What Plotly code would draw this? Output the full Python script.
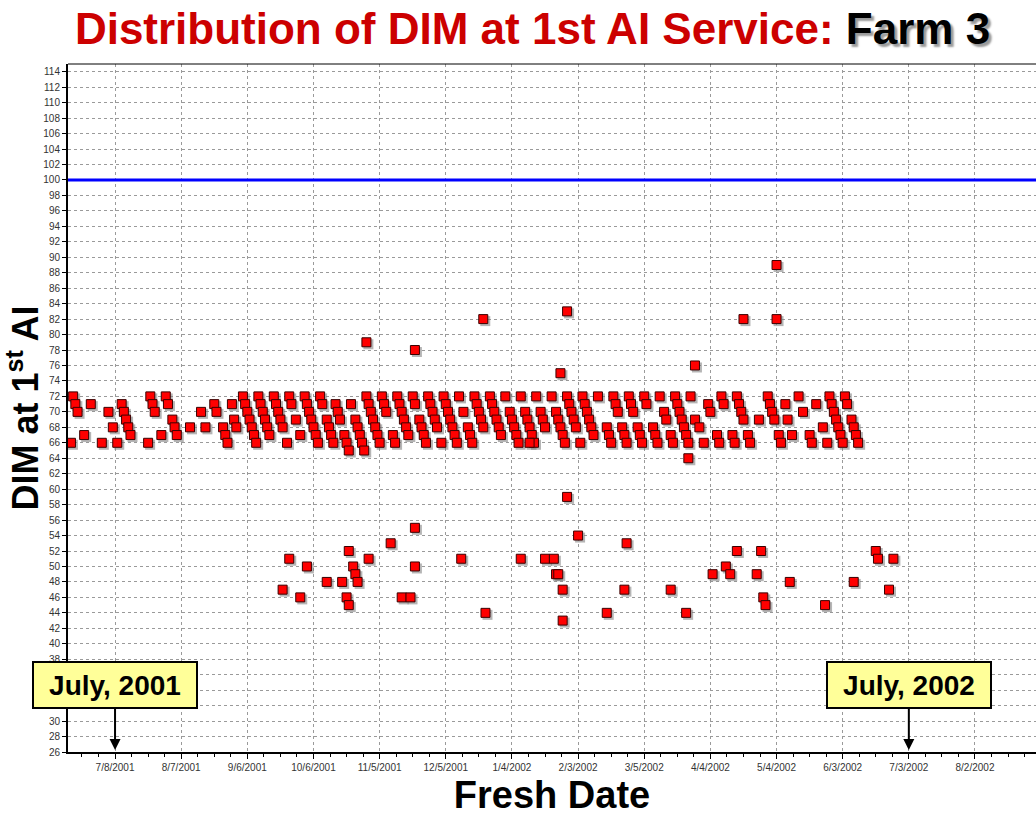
import plotly.graph_objects as go
import pandas as pd

# ---------------- data ----------------
BASE_DATE = "2001-07-08"          # fresh-day offsets are counted from this date

# main band of first services (DIM 64-72)
BAND_DAY = [-20, -19, -18, -17, -14, -11, -6, -3, -1, 1,
            3, 4, 5, 6, 7, 15, 16, 17, 18, 21,
            23, 24, 26, 27, 28, 34, 39, 41, 45, 46,
            49, 50, 51, 53, 54, 55, 58, 59, 60, 61,
            62, 63, 64, 65, 66, 67, 68, 69, 70, 72,
            73, 74, 75, 76, 78, 79, 80, 82, 84, 86,
            87, 88, 89, 90, 91, 92, 93, 94, 96, 97,
            98, 99, 100, 101, 102, 104, 105, 106, 107, 109,
            110, 111, 112, 113, 114, 115, 116, 117, 118, 119,
            120, 121, 122, 123, 126, 127, 128, 129, 130, 131,
            132, 133, 135, 136, 138, 139, 140, 141, 142, 143,
            144, 145, 146, 148, 149, 150, 151, 152, 153, 154,
            155, 156, 158, 160, 161, 162, 163, 164, 165, 166,
            167, 170, 171, 172, 173, 174, 175, 177, 179, 180,
            181, 182, 183, 184, 186, 187, 188, 189, 190, 188,
            191, 193, 194, 195, 198, 200, 201, 202, 203, 204,
            205, 206, 207, 208, 209, 211, 212, 213, 214, 215,
            216, 217, 219, 223, 224, 225, 226, 227, 228, 230,
            231, 232, 233, 234, 235, 237, 238, 239, 240, 241,
            244, 245, 246, 247, 249, 250, 252, 253, 254, 255,
            256, 257, 258, 259, 260, 260, 261, 263, 265, 267,
            269, 270, 273, 274, 275, 276, 280, 281, 282, 283,
            284, 285, 287, 288, 292, 296, 297, 298, 299, 301,
            302, 304, 305, 307, 310, 312, 315, 316, 318, 321,
            323, 324, 325, 326, 327, 328, 329, 330, 331, 332,
            334, 335, 336, 337]
BAND_DIM = [66, 72, 71, 70, 67, 71, 66, 70, 68, 66,
            71, 70, 69, 68, 67, 66, 72, 71, 70, 67,
            72, 71, 69, 68, 67, 68, 70, 68, 71, 70,
            68, 67, 66, 71, 69, 68, 72, 71, 70, 69,
            68, 67, 66, 72, 71, 70, 69, 68, 67, 72,
            71, 70, 69, 68, 66, 72, 71, 69, 67, 72,
            71, 70, 69, 68, 67, 66, 72, 71, 69, 68,
            67, 66, 71, 70, 69, 67, 66, 65, 71, 69,
            68, 67, 66, 65, 72, 71, 70, 69, 68, 67,
            66, 72, 71, 70, 67, 66, 72, 71, 70, 69,
            68, 67, 72, 71, 69, 68, 67, 66, 72, 71,
            70, 69, 68, 66, 72, 71, 70, 69, 68, 67,
            66, 72, 70, 68, 67, 66, 72, 71, 70, 69,
            68, 72, 71, 70, 69, 68, 67, 72, 70, 69,
            68, 67, 66, 72, 70, 69, 68, 67, 66, 66,
            72, 70, 69, 68, 72, 70, 69, 68, 67, 66,
            72, 71, 70, 69, 68, 66, 72, 71, 70, 69,
            68, 67, 72, 68, 67, 66, 72, 71, 70, 68,
            67, 66, 72, 71, 70, 68, 67, 66, 72, 71,
            68, 67, 66, 72, 70, 69, 67, 66, 72, 71,
            70, 69, 68, 67, 66, 64, 72, 69, 68, 66,
            71, 70, 67, 66, 72, 71, 67, 66, 72, 71,
            70, 69, 67, 66, 69, 72, 71, 70, 69, 67,
            66, 71, 69, 67, 72, 70, 67, 66, 71, 68,
            66, 72, 71, 70, 69, 68, 67, 66, 72, 71,
            69, 68, 67, 66]

# early services (DIM 43-55)
LOW_DAY = [136, 210, 125, 232, 106, 79, 115, 157, 184, 195, 199,
           87, 108, 136, 109, 200, 201, 96, 103, 110,
           76, 203, 231, 84, 105, 130, 134, 106, 168, 223, 203,
           282, 293, 345, 346, 353, 277, 271, 279, 291, 306, 335,
           252, 351, 294, 295, 322, 259]
LOW_DIM = [55, 54, 53, 53, 52, 51, 51, 51, 51, 51, 51,
           50, 50, 50, 49, 49, 49, 48, 48, 48,
           47, 47, 47, 46, 46, 46, 46, 45, 44, 44, 43,
           52, 52, 52, 51, 51, 50, 49, 49, 49, 48, 48,
           47, 47, 46, 45, 45, 44]

# isolated services
OUTLIER_DAY = [114, 136, 167, 205, 202, 205, 263, 285, 300, 300]
OUTLIER_DIM = [79, 78, 82, 83, 75, 59, 76, 82, 89, 82]

TARGET_DIM = 100
Y_RANGE = [26, 115]
Y_TICK_STEP = 2
X_RANGE = ["2001-06-16 16:00", "2002-08-29 16:00"]
X_TICK_START = "2001-07-08"
X_TICK_DAYS = 30
CALLOUT_TEXT = ["July, 2001", "July, 2002"]
CALLOUT_DATE = ["2001-07-08", "2002-07-03"]

# ---------------- figure ----------------
DAY_MS = 86400000
base = pd.Timestamp(BASE_DATE)
all_days = BAND_DAY + LOW_DAY + OUTLIER_DAY
all_dim = BAND_DIM + LOW_DIM + OUTLIER_DIM
fresh_dates = base + pd.to_timedelta(all_days, unit="D")

W, H = 1036, 816
ML, MR, MT, MB = 68, 0, 64, 64
plot_w, plot_h = W - ML - MR, H - MT - MB

x0, x1 = pd.Timestamp(X_RANGE[0]), pd.Timestamp(X_RANGE[1])
shift_x = (x1 - x0) * (2.0 / plot_w)
shift_y = (Y_RANGE[1] - Y_RANGE[0]) * (2.0 / plot_h)
fmt = "%Y-%m-%d %H:%M:%S.%f"

fig = go.Figure()

# drop shadow of the markers (same data, overlay axes offset by 2px)
fig.add_trace(go.Scatter(
    x=fresh_dates, y=all_dim, mode="markers", xaxis="x2", yaxis="y2",
    marker=dict(symbol="square", size=10, color="rgba(120,120,120,0.55)", line=dict(width=0)),
    hoverinfo="skip"))

# the services
fig.add_trace(go.Scatter(
    x=fresh_dates, y=all_dim, mode="markers", xaxis="x3", yaxis="y3",
    marker=dict(symbol="square", size=9, color="#FF0000", line=dict(width=1, color="#3a0000")),
    name="DIM at 1st AI"))

tick_font = dict(family="Liberation Sans Narrow, Liberation Sans, Arial", size=10, color="#333333")
grid = dict(showgrid=True, gridcolor="#9a9a9a", gridwidth=1, griddash="3px,3px")

fig.update_layout(
    width=W, height=H,
    margin=dict(l=ML, r=MR, t=MT, b=MB),
    paper_bgcolor="white", plot_bgcolor="white",
    showlegend=False,
    title=dict(
        text="<b>Distribution of DIM at 1st AI Service: "
             "<span style='color:#000000;text-shadow:3px 3px 2px #9a9a9a'>Farm 3</span></b>",
        font=dict(family="Liberation Sans, Arial", size=44, color="#CC0000"),
        xref="container", yref="container", x=0.514, y=1 - 29 / H,
        xanchor="center", yanchor="middle"),
    xaxis=dict(
        type="date", range=X_RANGE, tick0=X_TICK_START, dtick=X_TICK_DAYS * DAY_MS,
        tickformat="%-m/%-d/%Y", tickfont=tick_font,
        ticks="outside", ticklen=5, tickcolor="black",
        minor=dict(dtick=X_TICK_DAYS / 4 * DAY_MS, tick0=X_TICK_START, ticks="outside",
                   ticklen=3, tickcolor="black", showgrid=False),
        showline=True, linecolor="black", linewidth=2, zeroline=False,
        title=dict(text="<b>Fresh Date</b>", standoff=16,
                   font=dict(family="Liberation Sans, Arial", size=38, color="black")),
        **grid),
    yaxis=dict(
        range=Y_RANGE, tick0=Y_RANGE[0], dtick=Y_TICK_STEP, tickfont=tick_font,
        ticks="outside", ticklen=4, tickcolor="black",
        showline=True, linecolor="black", linewidth=2, zeroline=False,
        title=dict(text="<b>DIM at 1<sup>st</sup> AI</b>", standoff=6,
                   font=dict(family="Liberation Sans, Arial", size=36, color="black")),
        **grid),
    xaxis2=dict(type="date", overlaying="x", anchor="y2", visible=False,
                range=[(x0 - shift_x).strftime(fmt), (x1 - shift_x).strftime(fmt)]),
    yaxis2=dict(overlaying="y", anchor="x2", visible=False,
                range=[Y_RANGE[0] + shift_y, Y_RANGE[1] + shift_y]),
    xaxis3=dict(type="date", overlaying="x", anchor="y3", visible=False, range=X_RANGE),
    yaxis3=dict(overlaying="y", anchor="x3", visible=False, range=Y_RANGE),
)

# target line
fig.add_hline(y=TARGET_DIM, line=dict(color="#0000FF", width=3))

# top frame
fig.add_shape(type="line", xref="paper", yref="paper", x0=0, x1=1, y0=1, y1=1,
              line=dict(color="black", width=1))

# callouts
for txt, d in zip(CALLOUT_TEXT, CALLOUT_DATE):
    fig.add_annotation(
        x=d, y=Y_RANGE[0], xref="x", yref="y", text="<b>%s</b>" % txt,
        showarrow=True, arrowhead=2, arrowsize=1.1, arrowwidth=2, arrowcolor="black",
        ax=0, ay=-67, standoff=2,
        font=dict(family="Liberation Sans, Arial", size=28, color="black"),
        bgcolor="#FFFF99", bordercolor="black", borderwidth=2, borderpad=6,
        width=150, height=32)

fig.write_html("out.html", config={"displayModeBar": False},
               post_script="document.body.style.margin='0';")
